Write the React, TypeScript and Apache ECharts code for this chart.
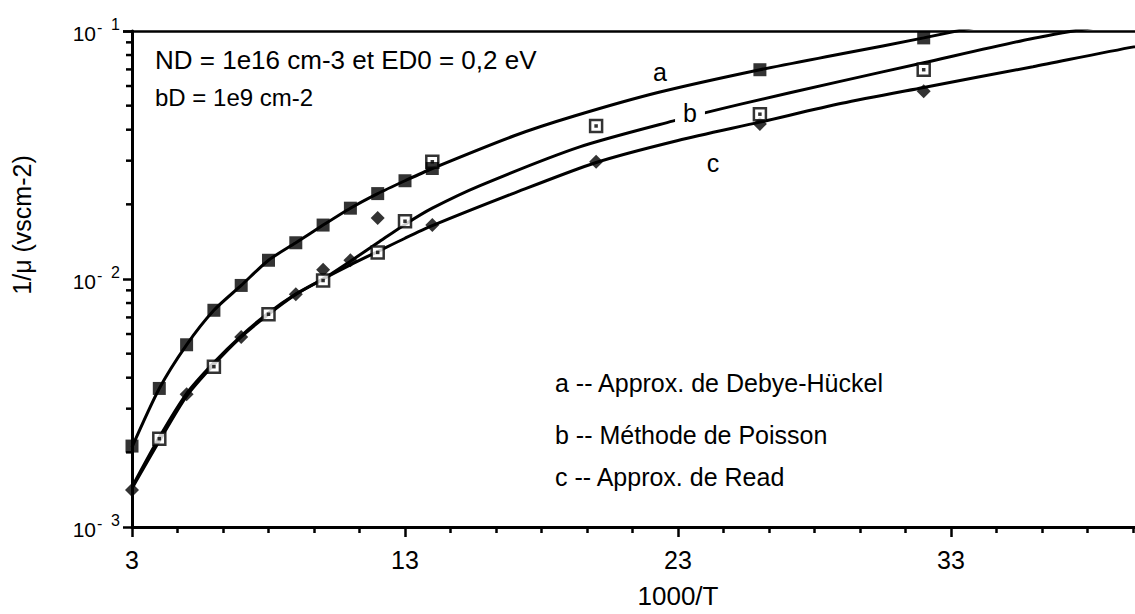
import React, { useEffect, useRef } from "react";
import * as echarts from "echarts";

// ---- data: 1/mu versus 1000/T ----
// markers, curve a (Debye-Hückel)
const debyeX = [3, 4, 5, 6, 7, 8, 9, 10, 11, 12, 13, 14, 26, 32];
const debyeY = [2.12e-3, 3.62e-3, 5.43e-3, 7.48e-3, 9.42e-3, 1.19e-2, 1.4e-2, 1.65e-2, 1.93e-2, 2.21e-2, 2.49e-2, 2.79e-2, 6.98e-2, 9.38e-2];
// markers, curve b (Poisson)
const poissonX = [4, 6, 8, 10, 12, 13, 14, 20, 26, 32];
const poissonY = [2.27e-3, 4.43e-3, 7.21e-3, 9.86e-3, 1.28e-2, 1.71e-2, 2.97e-2, 4.14e-2, 4.62e-2, 6.98e-2];
// markers, curve c (Read)
const readX = [3, 5, 7, 9, 10, 11, 12, 14, 20, 26, 32];
const readY = [1.41e-3, 3.43e-3, 5.83e-3, 8.67e-3, 1.09e-2, 1.19e-2, 1.76e-2, 1.65e-2, 2.97e-2, 4.22e-2, 5.71e-2];

// computed curves
const curveAX = [3, 4, 5, 6, 7, 8, 9, 10, 11, 12, 13, 14, 17, 19.2, 22.3, 26, 29, 32, 35];
const curveAY = [2.1e-3, 3.62e-3, 5.43e-3, 7.48e-3, 9.42e-3, 1.19e-2, 1.4e-2, 1.65e-2, 1.93e-2, 2.21e-2, 2.49e-2, 2.79e-2, 3.78e-2, 4.54e-2, 5.66e-2, 6.98e-2, 8.09e-2, 9.38e-2, 1.1e-1];
const curveBX = [3, 4, 5, 6, 7, 8, 9, 10, 11, 12, 13, 14, 15.75, 19.4, 22.8, 25.3, 28.9, 32, 35.9, 39];
const curveBY = [1.43e-3, 2.22e-3, 3.37e-3, 4.52e-3, 5.84e-3, 7.21e-3, 8.67e-3, 1.0e-2, 1.18e-2, 1.4e-2, 1.66e-2, 1.93e-2, 2.38e-2, 3.41e-2, 4.33e-2, 5.07e-2, 6.25e-2, 7.45e-2, 9.29e-2, 1.07e-1];
const curveCX = [3, 4, 5, 6, 7, 8, 9, 10, 11, 12, 13, 14, 17, 20, 23, 26, 29, 32, 36, 39.7, 43];
const curveCY = [1.45e-3, 2.3e-3, 3.45e-3, 4.6e-3, 5.9e-3, 7.3e-3, 8.7e-3, 1.0e-2, 1.14e-2, 1.29e-2, 1.46e-2, 1.64e-2, 2.22e-2, 2.95e-2, 3.62e-2, 4.29e-2, 5.11e-2, 5.92e-2, 7.18e-2, 8.63e-2, 9.9e-2];

// log-axis decades (labelled) and minor tick values (2..9 per decade)
const yDecades = [1e-3, 1e-2, 1e-1];
const yMinorTicks = [2e-3, 3e-3, 4e-3, 5e-3, 6e-3, 7e-3, 8e-3, 9e-3, 2e-2, 3e-2, 4e-2, 5e-2, 6e-2, 7e-2, 8e-2, 9e-2];

const xTitle = "1000/T";
const yTitle = "1/μ (vscm-2)";
const noteLines = ["ND = 1e16 cm-3 et ED0 = 0,2 eV", "bD = 1e9 cm-2"];
const legendLines = ["a -- Approx. de Debye-Hückel", "b -- Méthode de Poisson", "c -- Approx. de Read"];
const curveNames = ["a", "b", "c"];

const FONT = "'Liberation Sans', Arial, Helvetica, sans-serif";
const zip = (xs: number[], ys: number[]) => xs.map((x, i) => [x, ys[i]]);

// the plotting frame runs from 3 to 43 but only the left part up to the frame edge is shown
const VIEW_W = 1135;
const VIEW_H = 614;
const CHART_W = 1224;

export default function App() {
  const ref = useRef<HTMLDivElement>(null);

  useEffect(() => {
    if (!ref.current) return;
    const chart = echarts.init(ref.current, undefined, { renderer: "svg" });

    const lineSeries = (data: number[][]) => ({
      type: "line",
      data,
      showSymbol: false,
      smooth: 0.25,
      lineStyle: { color: "#000", width: 3 },
      z: 2,
    });

    const text = (t: string, x: number, y: number, size: number, extra: any = {}) => ({
      type: "text",
      x,
      y,
      z: 100,
      style: {
        text: t,
        fill: "#000",
        fontSize: size,
        fontFamily: FONT,
        verticalAlign: "middle",
        ...extra,
      },
    });

    const glyph = (t: string, x: number, y: number, size: number, align: string) => ({
      type: "text",
      x,
      y,
      style: { text: t, fill: "#000", fontSize: size, fontFamily: FONT, align, verticalAlign: "middle" },
    });

    chart.setOption({
      animation: false,
      backgroundColor: "#fff",
      grid: { left: 132, top: 31, right: 0, bottom: 83 },
      xAxis: [
        {
          type: "value",
          min: 3,
          max: 43,
          interval: 10,
          position: "bottom",
          axisLine: { show: true, onZero: false, lineStyle: { color: "#000", width: 3 } },
          axisTick: { show: true, length: 10, lineStyle: { color: "#000", width: 2.5 } },
          minorTick: { show: true, splitNumber: 6, length: 6, lineStyle: { color: "#000", width: 2.5 } },
          splitLine: { show: false },
          minorSplitLine: { show: false },
          axisLabel: { color: "#000", fontSize: 25, fontFamily: FONT, margin: 20, showMaxLabel: false },
          name: xTitle,
          nameLocation: "middle",
          nameGap: 56,
          nameTextStyle: { color: "#000", fontSize: 26, fontFamily: FONT },
        },
        {
          type: "value",
          min: 3,
          max: 43,
          position: "top",
          axisLine: { show: true, onZero: false, lineStyle: { color: "#000", width: 2.5 } },
          axisTick: { show: false },
          axisLabel: { show: false },
          splitLine: { show: false },
        },
      ],
      yAxis: {
        type: "log",
        logBase: 10,
        min: 1e-3,
        max: 1e-1,
        axisLine: { show: true, lineStyle: { color: "#000", width: 3 } },
        axisTick: { show: true, length: 9, lineStyle: { color: "#000", width: 2.5 } },
        splitLine: { show: false },
        axisLabel: { show: false },
      },
      series: [
        lineSeries(zip(curveAX, curveAY)),
        lineSeries(zip(curveBX, curveBY)),
        lineSeries(zip(curveCX, curveCY)),
        {
          // minor ticks of the log axis at 2..9 of each decade
          type: "custom",
          coordinateSystem: "cartesian2d",
          data: yMinorTicks.map((v) => [3, v]),
          encode: { x: 0, y: 1 },
          clip: false,
          silent: true,
          renderItem: (_p: any, api: any) => {
            const p = api.coord([api.value(0), api.value(1)]);
            return {
              type: "line",
              shape: { x1: p[0] - 6, y1: p[1], x2: p[0], y2: p[1] },
              style: { stroke: "#000", lineWidth: 2.5 },
            };
          },
        },
        {
          // decade labels written as 10 with a raised exponent
          type: "custom",
          coordinateSystem: "cartesian2d",
          data: yDecades.map((v) => [3, v]),
          encode: { x: 0, y: 1 },
          clip: false,
          silent: true,
          renderItem: (_p: any, api: any) => {
            const v = api.value(1);
            const p = api.coord([api.value(0), v]);
            const e = Math.round(Math.log10(v));
            return {
              type: "group",
              children: [
                glyph("10", p[0] - 36, p[1] + 2, 21, "right"),
                glyph("-", p[0] - 35, p[1] - 4, 16, "left"),
                glyph(String(Math.abs(e)), p[0] - 12, p[1] - 7, 16, "right"),
              ],
            };
          },
        },
        {
          type: "scatter",
          data: zip(readX, readY),
          symbol: "diamond",
          symbolSize: 14,
          itemStyle: { color: "#000" },
          z: 3,
        },
        {
          type: "scatter",
          data: zip(poissonX, poissonY),
          symbol: "rect",
          symbolSize: 12,
          itemStyle: { color: "#fff", borderColor: "#000", borderWidth: 2.5 },
          z: 4,
        },
        {
          type: "scatter",
          data: zip(poissonX, poissonY),
          symbol: "rect",
          symbolSize: 3.5,
          itemStyle: { color: "#000" },
          z: 5,
        },
        {
          type: "scatter",
          data: zip(debyeX, debyeY),
          symbol: "rect",
          symbolSize: 13,
          itemStyle: { color: "#000" },
          z: 6,
        },
      ],
      graphic: [
        text(noteLines[0], 155, 60, 26),
        text(noteLines[1], 155, 97, 24),
        text(legendLines[0], 555, 383, 25),
        text(legendLines[1], 555, 435, 25),
        text(legendLines[2], 555, 477, 25),
        text(curveNames[0], 660, 72, 25, { align: "center" }),
        text(curveNames[1], 690, 113, 25, { align: "center", backgroundColor: "#fff", padding: [0, 8] }),
        text(curveNames[2], 713, 163, 25, { align: "center" }),
        {
          type: "text",
          x: 22,
          y: 225,
          rotation: Math.PI / 2,
          z: 100,
          style: {
            text: yTitle,
            fill: "#000",
            fontSize: 25,
            fontFamily: FONT,
            align: "center",
            verticalAlign: "middle",
          },
        },
      ],
    });

    return () => chart.dispose();
  }, []);

  return (
    <div
      style={{
        position: "absolute",
        left: 0,
        top: 0,
        width: VIEW_W,
        height: VIEW_H,
        overflow: "hidden",
        background: "#fff",
      }}
    >
      <div ref={ref} style={{ width: CHART_W, height: VIEW_H }} />
    </div>
  );
}
